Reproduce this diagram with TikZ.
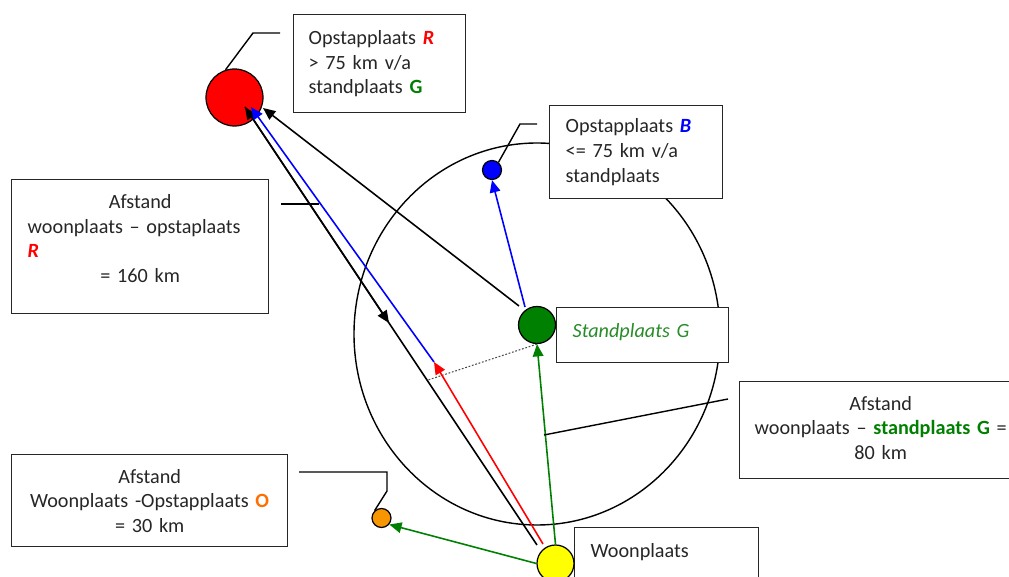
\documentclass[tikz,border=0pt]{standalone}
\usepackage{fontspec}
\setmainfont{Carlito}
\usetikzlibrary{arrows.meta}
\definecolor{rood}{RGB}{255,0,0}
\definecolor{blauw}{RGB}{0,0,255}
\definecolor{groen}{RGB}{0,128,0}
\definecolor{groentekst}{RGB}{40,140,40}
\definecolor{oranje}{RGB}{247,150,0}
\definecolor{oranjetekst}{RGB}{255,110,0}
\definecolor{geel}{RGB}{255,255,0}

\begin{document}
\begin{tikzpicture}[x=0.02cm,y=-0.02cm,
    font=\fontsize{11.5}{14}\selectfont,
    lijn/.style={line width=0.8pt},
    pijl/.style={line width=0.9pt,-{Triangle[length=7pt,width=6pt]}},
    plaats/.style={circle,draw=black,line width=0.7pt,inner sep=0pt},
    kader/.style={draw=black!85,fill=white,line width=0.8pt,inner ysep=0pt,text=black!85,anchor=north west}]
    \useasboundingbox (0,0) rectangle (1009,577);

    \draw[lijn] (537,334) ellipse [x radius=183, y radius=191];

    \node[kader,minimum height=1.96cm,inner xsep=0.3cm,text width=2.84cm,align=left] (kR) at (293,14)
        {Opstapplaats {\bfseries\itshape\color{rood}R}\\ > 75 km v/a\\ standplaats {\bfseries\color{groen}G}};
    \node[kader,minimum height=1.86cm,inner xsep=0.32cm,text width=2.82cm,align=left] (kB) at (549,105)
        {Opstapplaats {\bfseries\itshape\color{blauw}B}\\ <= 75 km v/a\\ standplaats};
    \node[kader,minimum height=2.68cm,inner xsep=0.32cm,text width=4.5cm] (kAR) at (11,179)
        {{\centering Afstand\par}{\raggedright woonplaats – opstaplaats\\ {\bfseries\itshape\color{rood}R}\par}{\centering = 160 km\rule[-0.32cm]{0pt}{0pt}\par}};
    \node[kader,minimum height=1.1cm,inner xsep=0.32cm,text width=2.8cm,align=left] (kG) at (556,307)
        {{\itshape\color{groentekst}Standplaats G}\rule[-0.18cm]{0pt}{0pt}};
    \node[kader,minimum height=1.94cm,inner xsep=0.17cm,text width=5.3cm,align=center] (kAG) at (739,381)
        {Afstand\\ woonplaats – {\bfseries\color{groen}standplaats G} =\\ 80 km\rule[-0.1cm]{0pt}{0pt}};
    \node[kader,minimum height=1.84cm,inner xsep=0.16cm,text width=5.2cm,align=center] (kAO) at (11,454)
        {Afstand\\ Woonplaats -Opstapplaats {\bfseries\color{oranjetekst}O}\\ = 30 km};
    \node[kader,minimum height=2cm,inner xsep=0.32cm,text width=3.04cm,align=left] (kW) at (574,527)
        {Woonplaats\rule[-1.08cm]{0pt}{0pt}};

    \node[plaats,fill=rood,minimum size=1.14cm] (R) at (234.5,97.5) {};
    \node[plaats,fill=blauw,minimum size=0.38cm] (B) at (492,170) {};
    \node[plaats,fill=groen,minimum size=0.74cm] (G) at (537,325) {};
    \node[plaats,fill=oranje,minimum size=0.38cm] (O) at (381.5,518) {};
    \node[plaats,fill=geel,minimum size=0.74cm] (W) at (555.5,563.5) {};

    \coordinate (wK) at (537,545);
    \coordinate (wR) at (543,544);
    \coordinate (rK) at (245,107);
    \coordinate (rB) at (251,107);
    \coordinate (rG) at (263,108);
    \coordinate (mK) at (389,323);
    \coordinate (rodePunt) at (434,362);
    \coordinate (voet) at (428,380);
    \coordinate (gK) at (519,306);
    \coordinate (gB) at (525,307);

    \draw[dash pattern=on 1pt off 1pt,line width=0.6pt,black!70] (G.south) -- (voet);
    \draw[pijl] (wK) -- (rK);
    \draw[pijl] (rK) -- (mK);
    \draw[pijl,rood] (wR) -- (rodePunt);
    \draw[pijl,blauw] (rodePunt) -- (rB);
    \draw[pijl] (gK) -- (rG);
    \draw[pijl,blauw] (gB) -- (B.south);
    \draw[pijl,groen] (W.north) -- (G.south);
    \draw[pijl,groen] (W.west) -- (O.-40);

    \coordinate (cR1) at (253,33);
    \coordinate (cR2) at (280,33);
    \coordinate (cB1) at (520,124);
    \coordinate (cB2) at (537,124);
    \coordinate (cAR1) at (281,204);
    \coordinate (cAR2) at (319,204);
    \coordinate (cAG1) at (544,435);
    \coordinate (cAG2) at (728,399);
    \coordinate (cO1) at (299,472);
    \coordinate (cO2) at (387,472);
    \coordinate (cO3) at (387,491);

    \draw[lijn] (R.108) -- (cR1) -- (cR2);
    \draw[lijn] (B.50) -- (cB1) -- (cB2);
    \draw[lijn] (cAR1) -- (cAR2);
    \draw[lijn] (cAG1) -- (cAG2);
    \draw[lijn] (cO1) -- (cO2) -- (cO3) -- (O.133);
\end{tikzpicture}
\end{document}
